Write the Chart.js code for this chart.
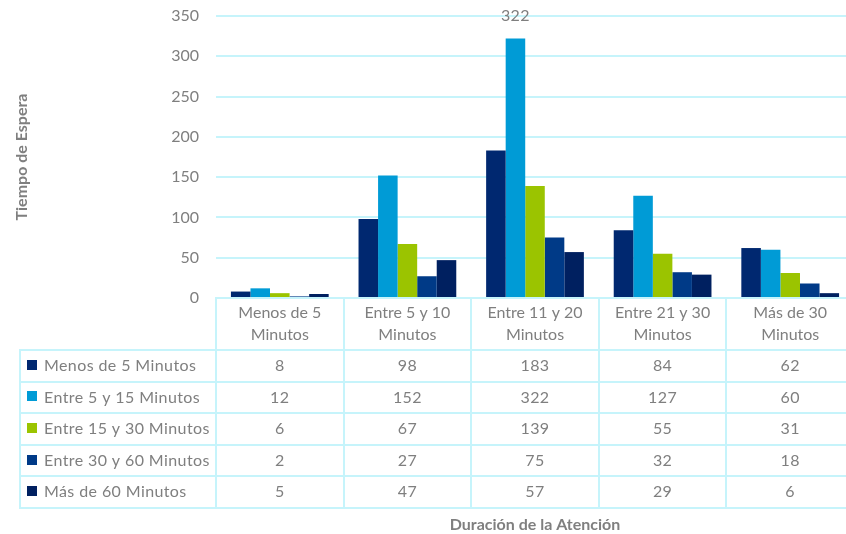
<!DOCTYPE html>
<html>
<head>
<meta charset="utf-8">
<script src="https://cdn.jsdelivr.net/npm/chart.js@4/dist/chart.umd.min.js"></script>
<style>
  html, body { margin: 0; padding: 0; background: #ffffff; }
  #wrap { width: 846px; height: 534px; }
</style>
</head>
<body>
<div id="wrap"><canvas id="chart" width="846" height="534"></canvas></div>
<script>
// Attention-duration groups (x categories), each label split over two lines
const categories = [
  ["Menos de 5", "Minutos"],
  ["Entre 5 y 10", "Minutos"],
  ["Entre 11 y 20", "Minutos"],
  ["Entre 21 y 30", "Minutos"],
  ["Más de 30", "Minutos"]
];

// Waiting-time series
const seriesNames = [
  "Menos de 5 Minutos",
  "Entre 5 y 15 Minutos",
  "Entre 15 y 30 Minutos",
  "Entre 30 y 60 Minutos",
  "Más de 60 Minutos"
];
const menos5     = [8, 98, 183, 84, 62];
const entre5y15  = [12, 152, 322, 127, 60];
const entre15y30 = [6, 67, 139, 55, 31];
const entre30y60 = [2, 27, 75, 32, 18];
const mas60      = [5, 47, 57, 29, 6];
const seriesValues = [menos5, entre5y15, entre15y30, entre30y60, mas60];
const seriesColors = ["#002870", "#009bd6", "#9bc400", "#003a87", "#002060"];

const yTicks = { min: 0, max: 350, step: 50 };
// The one bar carrying a value label: series "Entre 5 y 15", group "Entre 11 y 20"
const labeledBar = { series: 1, category: 2 };

const FONT = "Lato, 'Open Sans', sans-serif";
const TEXT = "#7f7f7f";
const LINE = "#c6f4fb";

// The plot runs a few pixels past the right edge of the canvas,
// so the last group is cut off the same way as the other columns are sized.
const widenPlot = {
  id: "widenPlot",
  afterLayout(chart) {
    const extra = 8;
    chart.chartArea.right += extra;
    chart.chartArea.width += extra;
    const x = chart.scales.x;
    x.right += extra;
    x.width += extra;
    x.configure();
  }
};

// Data table under the plot: header row holds the axis labels,
// then one row per series with its swatch, name and values.
const dataTable = {
  id: "dataTable",
  afterDraw(chart) {
    const { ctx, chartArea, scales: { x } } = chart;
    const n = categories.length;
    const catW = (chartArea.right - chartArea.left) / n;
    const tableLeft = 20;
    const headTop = chartArea.bottom;
    const headBottom = headTop + 52;
    const rowH = 31.6;
    const rows = seriesNames.length;
    const tableBottom = headBottom + rowH * rows;

    ctx.save();
    ctx.strokeStyle = LINE;
    ctx.lineWidth = 2;

    // column separators (header + body)
    for (let i = 0; i < n; i++) {
      const cx = Math.round(x.getPixelForValue(i) - catW / 2);
      ctx.beginPath();
      ctx.moveTo(cx, headTop);
      ctx.lineTo(cx, tableBottom);
      ctx.stroke();
    }
    // left edge of the series-name column
    ctx.beginPath();
    ctx.moveTo(tableLeft, headBottom);
    ctx.lineTo(tableLeft, tableBottom);
    ctx.stroke();
    // row separators
    for (let r = 0; r <= rows; r++) {
      const ry = Math.round(headBottom + rowH * r);
      ctx.beginPath();
      ctx.moveTo(tableLeft - 1, ry);
      ctx.lineTo(chart.width, ry);
      ctx.stroke();
    }

    ctx.font = "16px " + FONT;
    ctx.letterSpacing = "0.4px";
    ctx.textBaseline = "middle";
    for (let r = 0; r < rows; r++) {
      const cy = headBottom + rowH * r + rowH / 2;
      ctx.fillStyle = seriesColors[r];
      ctx.fillRect(27, Math.round(cy - 6), 10, 10);
      ctx.fillStyle = TEXT;
      ctx.textAlign = "left";
      ctx.fillText(seriesNames[r], 44, cy);
      ctx.textAlign = "center";
      seriesValues[r].forEach((v, i) => {
        ctx.fillText(String(v), x.getPixelForValue(i), cy);
      });
    }

    // value label over the tallest bar
    const bar = chart.getDatasetMeta(labeledBar.series).data[labeledBar.category];
    ctx.textAlign = "center";
    ctx.fillText(String(seriesValues[labeledBar.series][labeledBar.category]), bar.x, bar.y - 23);
    ctx.restore();
  }
};

new Chart(document.getElementById("chart"), {
  type: "bar",
  data: {
    labels: categories,
    datasets: seriesNames.map((name, i) => ({
      label: name,
      data: seriesValues[i],
      backgroundColor: seriesColors[i],
      borderWidth: 0,
      categoryPercentage: 0.766,
      barPercentage: 1
    }))
  },
  options: {
    responsive: false,
    animation: false,
    layout: { padding: { top: 16, right: 0, bottom: 0, left: 0 } },
    plugins: {
      legend: { display: false },
      tooltip: { enabled: false }
    },
    scales: {
      x: {
        grid: { display: false, drawTicks: false },
        border: { display: true, color: LINE, width: 2 },
        ticks: {
          color: TEXT,
          font: { family: FONT, size: 16, lineHeight: 22 / 16 },
          padding: 4,
          maxRotation: 0,
          autoSkip: false
        },
        title: {
          display: true,
          text: "Duración de la Atención",
          color: TEXT,
          font: { family: FONT, size: 16, weight: "bold" },
          padding: { top: 0, bottom: 0 }
        },
        afterFit(scale) {
          scale.height = 236;
          scale.paddingTop = 0;
          scale.paddingBottom = 0;
        }
      },
      y: {
        min: yTicks.min,
        max: yTicks.max,
        grid: { color: LINE, lineWidth: 2, drawTicks: false },
        border: { display: false },
        ticks: {
          stepSize: yTicks.step,
          color: TEXT,
          font: { family: FONT, size: 16 },
          padding: 17
        },
        title: {
          display: true,
          text: "Tiempo de Espera",
          color: TEXT,
          font: { family: FONT, size: 16, weight: "bold" },
          padding: { top: 12, bottom: 0 }
        },
        afterFit(scale) {
          scale.width = 216;
          scale.paddingTop = 0;
          scale.paddingBottom = 0;
        }
      }
    }
  },
  plugins: [widenPlot, dataTable]
});
</script>
</body>
</html>
